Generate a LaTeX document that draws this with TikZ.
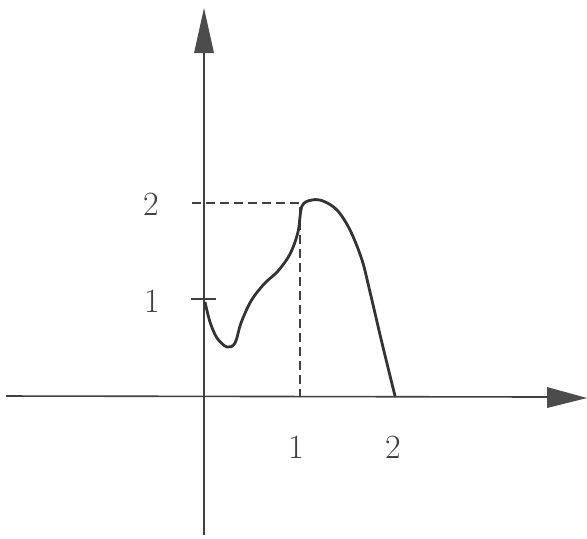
\documentclass[tikz,border=0pt]{standalone}
\begin{document}
\begin{tikzpicture}[x=0.5pt,y=-0.5pt,
  axis/.style={line width=0.8pt,draw=black!75},
  tip/.style={fill=black!70,draw=none},
  curve/.style={line width=1.4pt,draw=black!80},
  guide/.style={line width=0.7pt,draw=black!75,dash pattern=on 4.5pt off 2.5pt},
  lab/.style={font=\fontsize{17}{20}\selectfont,text=black!75,inner sep=0pt}]
\useasboundingbox (0,0) rectangle (587,538);
% axes
\coordinate (ybot) at (204,535);
\coordinate (ytop) at (204,50);
\coordinate (xl) at (6,396);
\coordinate (xr) at (550,397);
\draw[axis] (ybot) -- (ytop);
\draw[axis] (xl) -- (xr);
\fill[tip] (194,53) -- (214,53) -- (204,8) -- cycle;
\fill[tip] (547,387) -- (547,408) -- (587,398) -- cycle;
% ticks
\coordinate (t1a) at (191,299);
\coordinate (t1b) at (216,299);
\draw[axis] (t1a) -- (t1b);
% dashed guides
\coordinate (d0) at (192,203);
\coordinate (d1) at (300,203);
\coordinate (d2) at (300,396);
\draw[guide] (d0) -- (d1) -- (d2);
% curve
\draw[curve] plot[smooth,tension=0.55] coordinates{
 (205,302) (210,322) (217,338) (227,347) (235,343) (241,323)
 (251,301) (264,284) (278,271) (290,254) (298,232) (302,206)
 (312,200) (323,201) (337,210) (350,230) (362,260) (370,292)
 (382,343) (395,396)};
% labels
\node[lab] (ly2) at (151,204) {2};
\node[lab] (ly1) at (152,301) {1};
\node[lab] (lx1) at (296,447) {1};
\node[lab] (lx2) at (393,447) {2};
\end{tikzpicture}
\end{document}
